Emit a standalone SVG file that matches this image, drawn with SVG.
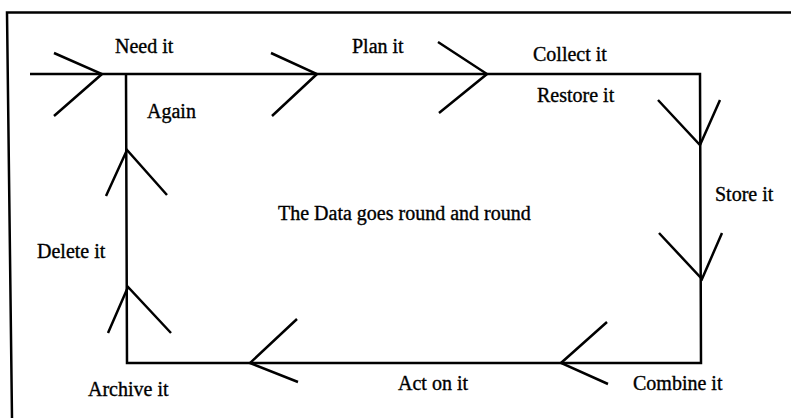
<svg xmlns="http://www.w3.org/2000/svg" width="791" height="420" viewBox="0 0 791 420">
<style>
  .ln { stroke: #000; stroke-width: 2.5; fill: none; stroke-linecap: butt; stroke-linejoin: miter; }
  .fr { stroke: #000; stroke-width: 2.5; fill: none; }
  .t { font-family: "Liberation Serif", "Times New Roman", serif; font-size: 20px; fill: #000; stroke: #000; stroke-width: 0.35; }
</style>
<rect width="791" height="420" fill="#fff"/>
<g id="frame">
  <path class="fr" d="M791,12.5 L7,12.5 L12,418"/>
</g>
<g id="connectors">
  <path class="ln" d="M30,74 L700,74 L701,363 L127,363 L126,74"/>
  <polyline class="ln" points="54,53 102,74 54,116"/>
  <polyline class="ln" points="271,53 317,74 272,116"/>
  <polyline class="ln" points="438,42 487,74 439,113"/>
  <polyline class="ln" points="658,100 700,145 720,100"/>
  <polyline class="ln" points="659,233 702,279 722,233"/>
  <polyline class="ln" points="607,322 561,363 608,384"/>
  <polyline class="ln" points="297,319 250,363 298,382"/>
  <polyline class="ln" points="108,333 128,287 171,333"/>
  <polyline class="ln" points="106,196 127,150 167,195"/>
</g>
<g id="need"><text class="t" x="115" y="53">Need it</text></g>
<g id="plan"><text class="t" x="352" y="53">Plan it</text></g>
<g id="collect"><text class="t" x="533" y="61">Collect it</text></g>
<g id="restore"><text class="t" x="537" y="102">Restore it</text></g>
<g id="again"><text class="t" x="147" y="118">Again</text></g>
<g id="store"><text class="t" x="715" y="201">Store it</text></g>
<g id="center"><text class="t" x="278" y="220">The Data goes round and round</text></g>
<g id="delete"><text class="t" x="37" y="258">Delete it</text></g>
<g id="archive"><text class="t" x="88" y="396">Archive it</text></g>
<g id="act"><text class="t" x="398" y="390">Act on it</text></g>
<g id="combine"><text class="t" x="633" y="390">Combine it</text></g>
</svg>
